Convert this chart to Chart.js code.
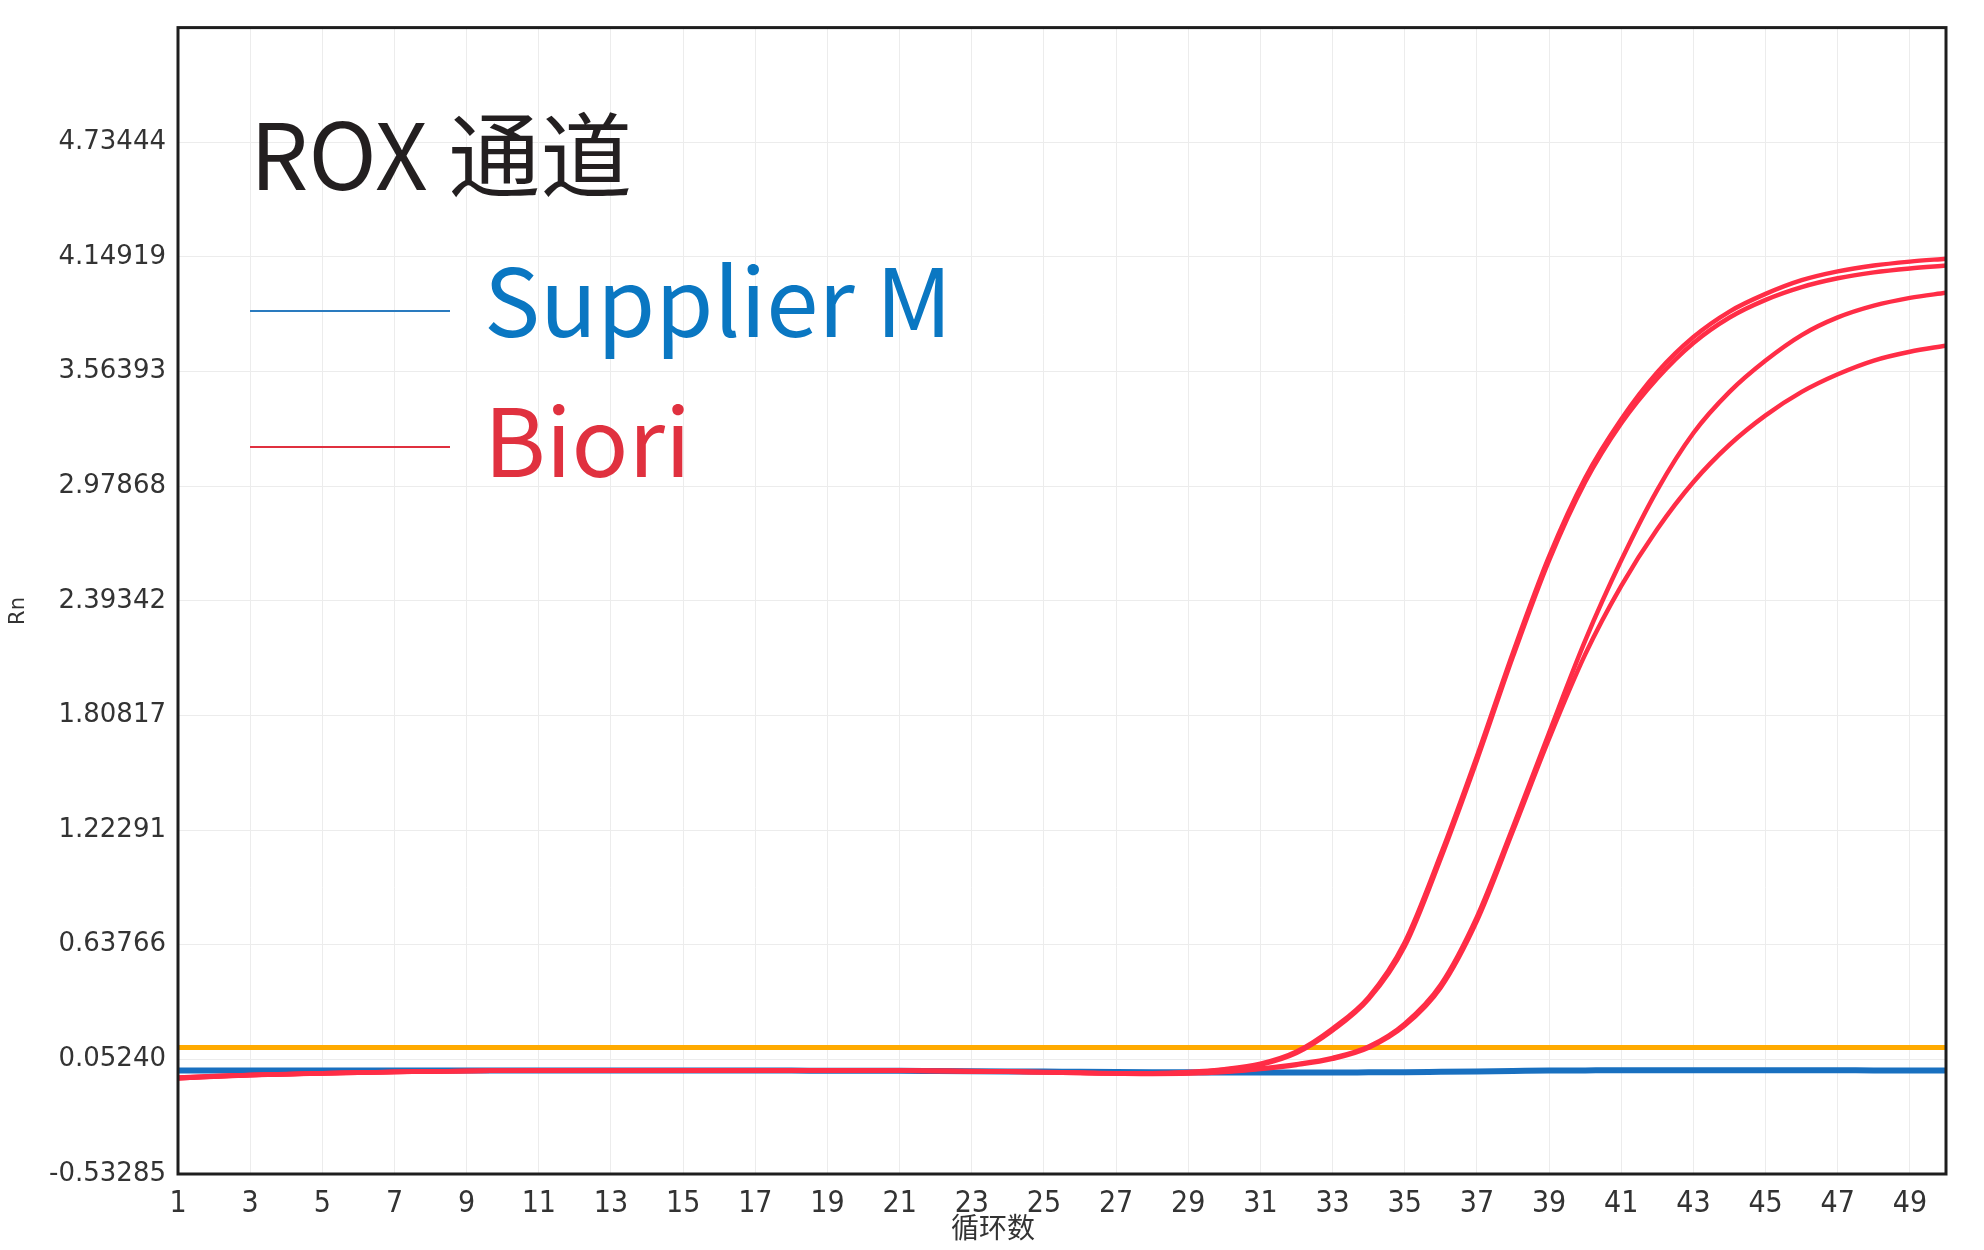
<!DOCTYPE html>
<html>
<head>
<meta charset="utf-8">
<title>ROX 通道</title>
<script src="https://cdn.jsdelivr.net/npm/chart.js@4.4.0/dist/chart.umd.min.js"></script>
<style>
  html, body { margin: 0; padding: 0; background: #fff; }
</style>
</head>
<body>
<canvas id="rnChart" width="1984" height="1250"></canvas>
<script>
// amplification data, cycles 1..50
const cycles = [1, 2, 3, 4, 5, 6, 7, 8, 9, 10, 11, 12, 13, 14, 15, 16, 17, 18, 19, 20,
  21, 22, 23, 24, 25, 26, 27, 28, 29, 30, 31, 32, 33, 34, 35, 36, 37, 38, 39, 40,
  41, 42, 43, 44, 45, 46, 47, 48, 49, 50];

const xTickValues = [1, 3, 5, 7, 9, 11, 13, 15, 17, 19, 21, 23, 25, 27, 29, 31, 33, 35, 37, 39, 41, 43, 45, 47, 49];
const yTickValues = [-0.53285, 0.05240, 0.63766, 1.22291, 1.80817, 2.39342, 2.97868, 3.56393, 4.14919, 4.73444];
const yTickLabels = ["-0.53285", "0.05240", "0.63766", "1.22291", "1.80817", "2.39342", "2.97868", "3.56393", "4.14919", "4.73444"];
const yMin = -0.53285;
const yMax = 5.31970;

const threshold = 0.113;

// Supplier M (flat)
const supplierM = [-0.004, -0.004, -0.004, -0.004, -0.004, -0.004, -0.004, -0.004, -0.004, -0.004,
  -0.005, -0.005, -0.005, -0.005, -0.005, -0.005, -0.005, -0.005, -0.006, -0.006,
  -0.006, -0.007, -0.008, -0.009, -0.010, -0.011, -0.012, -0.013, -0.014, -0.015,
  -0.015, -0.015, -0.015, -0.014, -0.013, -0.011, -0.009, -0.007, -0.005, -0.004,
  -0.003, -0.003, -0.003, -0.003, -0.003, -0.003, -0.003, -0.004, -0.004, -0.004];

// Biori replicates
const bioriA1 = [-0.045, -0.036, -0.029, -0.024, -0.020, -0.016, -0.012, -0.009, -0.007, -0.006,
  -0.005, -0.005, -0.005, -0.005, -0.005, -0.005, -0.005, -0.005, -0.005, -0.005,
  -0.005, -0.006, -0.007, -0.009, -0.012, -0.015, -0.018, -0.018, -0.012, 0.002,
  0.030, 0.092, 0.210, 0.370, 0.650, 1.100, 1.600, 2.130, 2.620, 3.020,
  3.320, 3.560, 3.740, 3.870, 3.960, 4.030, 4.075, 4.105, 4.125, 4.140];

const bioriA2 = [-0.040, -0.033, -0.027, -0.022, -0.018, -0.015, -0.011, -0.009, -0.007, -0.006,
  -0.005, -0.005, -0.005, -0.005, -0.005, -0.005, -0.005, -0.005, -0.005, -0.005,
  -0.006, -0.007, -0.008, -0.010, -0.013, -0.016, -0.019, -0.019, -0.014, 0.000,
  0.025, 0.085, 0.200, 0.360, 0.630, 1.080, 1.580, 2.110, 2.600, 3.000,
  3.300, 3.530, 3.710, 3.840, 3.930, 3.995, 4.040, 4.070, 4.090, 4.105];

const bioriB1 = [-0.042, -0.034, -0.028, -0.023, -0.019, -0.015, -0.012, -0.009, -0.007, -0.006,
  -0.005, -0.005, -0.005, -0.005, -0.005, -0.005, -0.005, -0.005, -0.005, -0.005,
  -0.006, -0.007, -0.009, -0.011, -0.014, -0.017, -0.020, -0.021, -0.018, -0.010,
  0.006, 0.028, 0.060, 0.118, 0.235, 0.435, 0.780, 1.240, 1.720, 2.190,
  2.600, 2.960, 3.250, 3.460, 3.620, 3.750, 3.840, 3.900, 3.940, 3.966];

const bioriB2 = [-0.044, -0.035, -0.028, -0.023, -0.019, -0.016, -0.012, -0.009, -0.007, -0.006,
  -0.005, -0.005, -0.005, -0.005, -0.005, -0.005, -0.005, -0.005, -0.005, -0.005,
  -0.006, -0.007, -0.009, -0.011, -0.014, -0.017, -0.020, -0.022, -0.020, -0.012,
  0.003, 0.024, 0.055, 0.112, 0.225, 0.420, 0.760, 1.220, 1.690, 2.120,
  2.470, 2.760, 3.000, 3.190, 3.340, 3.460, 3.550, 3.620, 3.665, 3.696];

const RED = "rgb(255, 45, 70)";
const BLUE = "rgb(25, 112, 192)";
const ORANGE = "rgb(255, 170, 0)";

function toPoints(values) {
  return cycles.map((c, i) => ({ x: c, y: values[i] }));
}

// frame, in-plot title/legend and the axis titles
const overlayText = {
  id: "overlayText",
  afterDraw(chart) {
    const ctx = chart.ctx;
    const a = chart.chartArea;
    ctx.save();

    ctx.strokeStyle = "#1e1e1e";
    ctx.lineWidth = 3;
    ctx.strokeRect(a.left, a.top, a.right - a.left, a.bottom - a.top);

    ctx.textAlign = "left";
    ctx.textBaseline = "alphabetic";
    ctx.font = "400 92px 'Noto Sans CJK SC', 'Noto Sans', sans-serif";
    ctx.fillStyle = "#231f20";
    ctx.fillText("ROX 通道", 250, 190);

    // legend lines
    ctx.lineWidth = 2;
    ctx.strokeStyle = "#2a7bbf";
    ctx.beginPath();
    ctx.moveTo(250, 311);
    ctx.lineTo(450, 311);
    ctx.stroke();
    ctx.strokeStyle = "#e0303f";
    ctx.beginPath();
    ctx.moveTo(250, 447);
    ctx.lineTo(450, 447);
    ctx.stroke();

    ctx.font = "400 94px 'Noto Sans CJK SC', 'Noto Sans', sans-serif";
    ctx.fillStyle = "#0a77c2";
    ctx.fillText("Supplier M", 484, 337);
    ctx.fillStyle = "#e0313f";
    ctx.fillText("Biori", 484, 477);

    // x axis title sits left of centre, over the labels
    ctx.font = "28px 'Noto Sans CJK SC', sans-serif";
    ctx.fillStyle = "#333";
    ctx.textAlign = "center";
    ctx.textBaseline = "middle";
    ctx.fillText("循环数", a.left + (a.right - a.left) * 0.461, 1227);

    // y axis title, rotated
    ctx.translate(19, 611);
    ctx.rotate(-Math.PI / 2);
    ctx.font = "21px 'DejaVu Sans', sans-serif";
    ctx.fillText("Rn", 0, 0);
    ctx.restore();
  }
};

const ctx = document.getElementById("rnChart").getContext("2d");

new Chart(ctx, {
  type: "line",
  data: {
    datasets: [
      { label: "Biori", data: toPoints(bioriA1), borderColor: RED, borderWidth: 4.5 },
      { label: "Biori", data: toPoints(bioriA2), borderColor: RED, borderWidth: 4.5 },
      { label: "Biori", data: toPoints(bioriB1), borderColor: RED, borderWidth: 4.5 },
      { label: "Biori", data: toPoints(bioriB2), borderColor: RED, borderWidth: 4.5 },
      { label: "Supplier M", data: toPoints(supplierM), borderColor: BLUE, borderWidth: 6 },
      {
        label: "Threshold",
        data: [{ x: cycles[0], y: threshold }, { x: cycles[cycles.length - 1], y: threshold }],
        borderColor: ORANGE,
        borderWidth: 5
      }
    ]
  },
  options: {
    responsive: false,
    animation: false,
    devicePixelRatio: 1,
    layout: { padding: { top: 25, right: 38, left: 0, bottom: 0 } },
    elements: {
      point: { radius: 0 },
      line: { cubicInterpolationMode: "monotone", fill: false }
    },
    plugins: {
      legend: { display: false },
      tooltip: { enabled: false }
    },
    scales: {
      x: {
        type: "linear",
        min: 1,
        max: 50,
        afterBuildTicks: (axis) => {
          axis.ticks = xTickValues.map((v) => ({ value: v }));
        },
        afterFit: (scale) => {
          scale.height = 76;
        },
        grid: { color: "#ececec", lineWidth: 1, drawTicks: false },
        border: { display: false },
        ticks: {
          autoSkip: false,
          maxRotation: 0,
          padding: 12,
          color: "#333",
          font: { family: "'Liberation Sans Narrow', 'DejaVu Sans Condensed', 'Liberation Sans', sans-serif", size: 30 }
        }
      },
      y: {
        min: yMin,
        max: yMax,
        afterBuildTicks: (axis) => {
          axis.ticks = yTickValues.map((v) => ({ value: v }));
        },
        afterFit: (scale) => {
          scale.width = 178;
        },
        grid: { color: "#ececec", lineWidth: 1, drawTicks: false },
        border: { display: false },
        ticks: {
          padding: 12,
          color: "#333",
          font: { family: "'DejaVu Sans', sans-serif", size: 26 },
          callback: function (value, index) {
            return yTickLabels[index];
          }
        }
      }
    }
  },
  plugins: [overlayText]
});
</script>
</body>
</html>
